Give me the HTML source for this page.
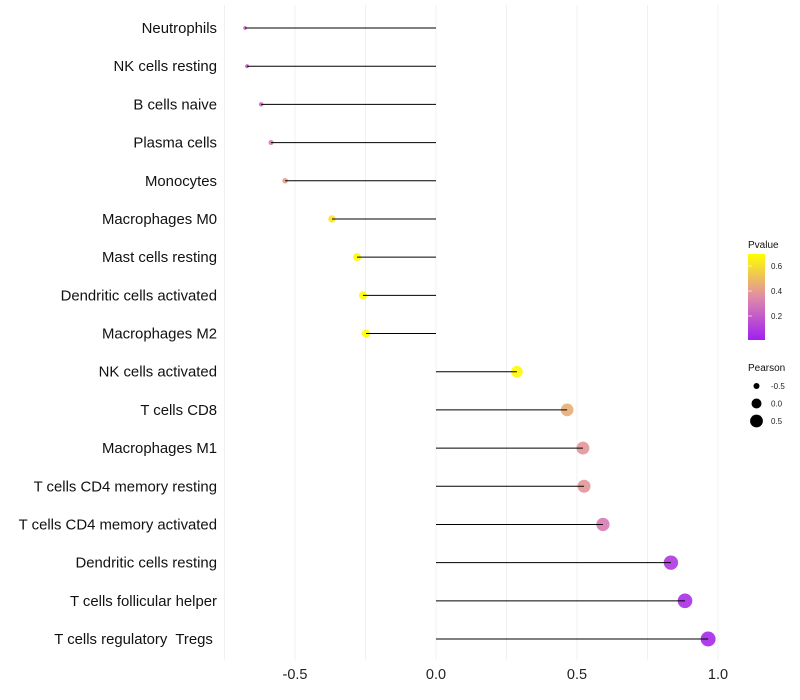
<!DOCTYPE html>
<html><head><meta charset="utf-8"><style>
body{margin:0;background:#fff;}
svg{display:block;font-family:"Liberation Sans",sans-serif;}
text{white-space:pre;}
</style></head><body>
<svg id="chart" width="800" height="700">
<defs><linearGradient id="pg" x1="0" y1="1" x2="0" y2="0">
<stop offset="0" stop-color="#A020F0"/><stop offset="0.5" stop-color="#DF8BA8"/><stop offset="1" stop-color="#FFFF00"/>
</linearGradient></defs>
<g id="grid"></g>
<g id="marks"></g>
<g id="ylab"></g>
<g id="xlab"></g>
<g>
<text x="748" y="248" font-size="10" fill="#111">Pvalue</text>
<rect x="748" y="254" width="17" height="86" fill="url(#pg)"/>
<g id="cbticks"></g>
</g>
<g>
<text x="748" y="371" font-size="10" fill="#111">Pearson</text>
<g id="sizeleg"></g>
</g>
</svg>
<script>
const categories=["Neutrophils","NK cells resting","B cells naive","Plasma cells","Monocytes","Macrophages M0","Mast cells resting","Dendritic cells activated","Macrophages M2","NK cells activated","T cells CD8","Macrophages M1","T cells CD4 memory resting","T cells CD4 memory activated","Dendritic cells resting","T cells follicular helper","T cells regulatory  Tregs "];
const pearson=[-0.677,-0.670,-0.62,-0.585,-0.535,-0.369,-0.28,-0.259,-0.248,0.287,0.465,0.521,0.525,0.592,0.833,0.883,0.965];
const pvalues=[0.2,0.18,0.25,0.3,0.4,0.62,0.68,0.69,0.69,0.68,0.45,0.38,0.38,0.3,0.08,0.05,0.03];
const xTicks=[-0.5,0.0,0.5,1.0];
const xTickLabels=["-0.5","0.0","0.5","1.0"];
const cbTicks=[0.2,0.4,0.6];
const sizeLegend=[-0.5,0.0,0.5];

const NS="http://www.w3.org/2000/svg";
function el(t,a,p){const e=document.createElementNS(NS,t);for(const k in a)e.setAttribute(k,a[k]);p.appendChild(e);return e;}
const x=v=>436+v*282;
const y=i=>28+i*(611/16);
const r=v=>Math.sqrt(Math.max(1,25+32*v));
const pY=p=>254+(0.696-p)*125;
function lerp(a,b,t){return a.map((c,i)=>Math.round(c+(b[i]-c)*t));}
function col(p){const t=Math.max(0,Math.min(1,p/0.696));const A=[160,32,240],M=[223,139,168],B=[255,255,0];
const c=t<0.5?lerp(A,M,t*2):lerp(M,B,(t-0.5)*2);return `rgb(${c.join(',')})`;}
const grid=document.getElementById('grid'),marks=document.getElementById('marks'),ylab=document.getElementById('ylab'),xlab=document.getElementById('xlab');
for(let v=-0.75;v<=1.001;v+=0.25){
const g=el('line',{x1:x(v),x2:x(v),y1:5,y2:660,stroke:'#f0f0f0','stroke-width':1},grid);

}
xTicks.forEach((v,i)=>{const t=el('text',{x:x(v),y:679,'font-size':14.5,'text-anchor':'middle',fill:'#222'},xlab);t.textContent=xTickLabels[i];

});
categories.forEach((c,i)=>{
const t=el('text',{x:217,y:y(i)+5,'font-size':14.9,'text-anchor':'end',fill:'#111'},ylab);t.textContent=c;


const p=el('circle',{cx:x(pearson[i]),cy:y(i),r:r(pearson[i]),fill:col(pvalues[i]),'fill-opacity':0.9},marks);


const s=el('line',{x1:x(0),x2:x(pearson[i]),y1:y(i),y2:y(i),stroke:'#000','stroke-width':1},marks);

});
const cbt=document.getElementById('cbticks');
cbTicks.forEach(v=>{const t=el('text',{x:771,y:pY(v)+3,'font-size':8,fill:'#222'},cbt);t.textContent=v.toFixed(1);


const l=el('line',{x1:748,x2:752,y1:pY(v),y2:pY(v),stroke:'#fff','stroke-opacity':0.6},cbt);

});
const sl=document.getElementById('sizeleg');
sizeLegend.forEach((v,i)=>{const cy=386+i*17.5;
const c=el('circle',{cx:756.5,cy:cy,r:r(v),fill:'#000'},sl);


const t=el('text',{x:771,y:cy+3,'font-size':8,fill:'#222'},sl);t.textContent=v.toFixed(1);

});
</script>
</body></html>
